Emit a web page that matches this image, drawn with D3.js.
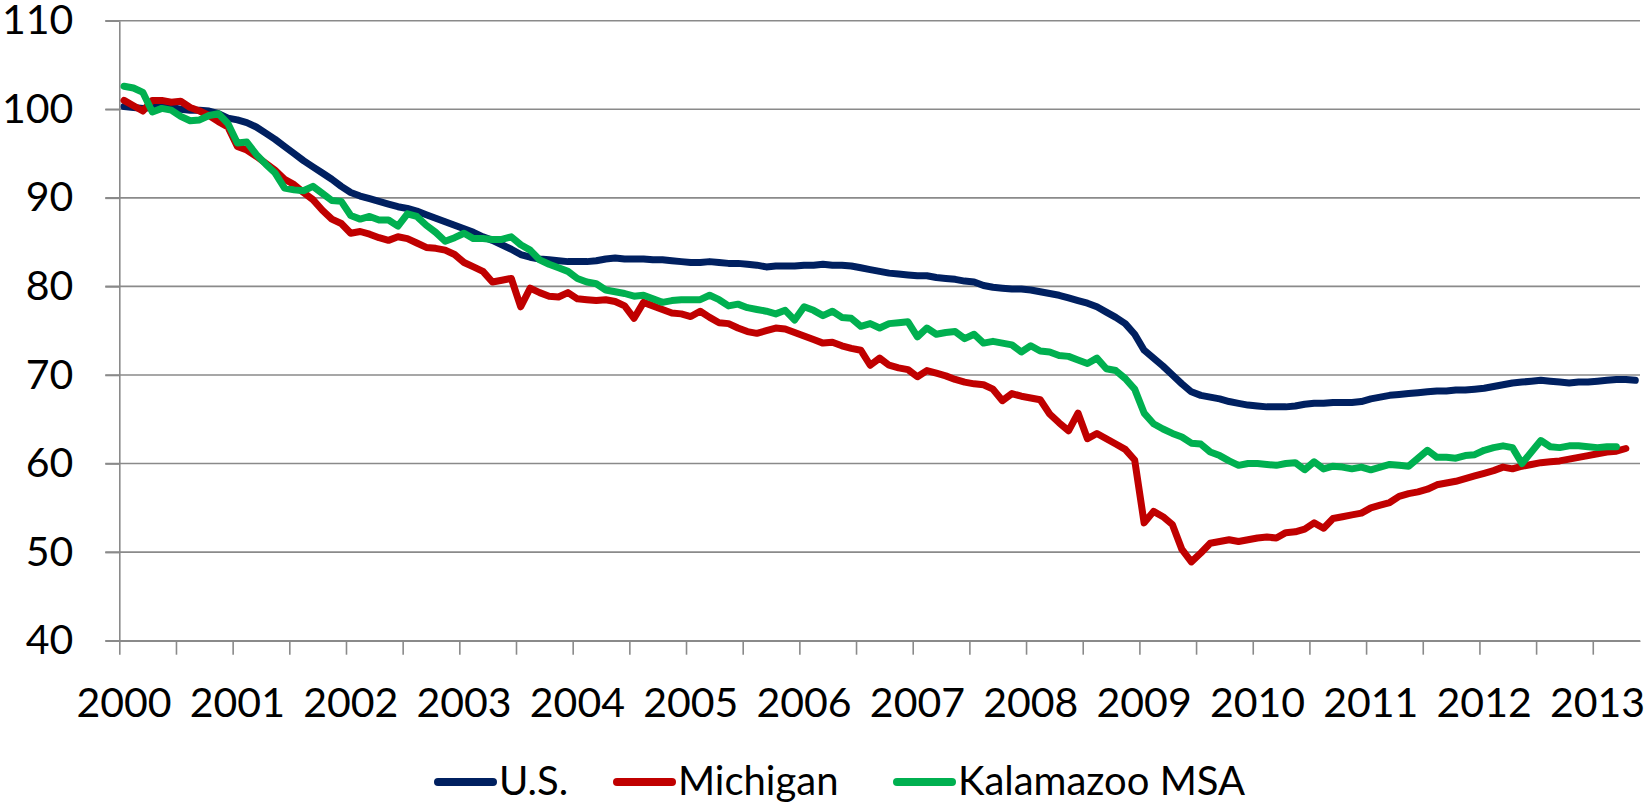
<!DOCTYPE html>
<html>
<head>
<meta charset="utf-8">
<script src="https://cdn.jsdelivr.net/npm/d3@7"></script>
<style>
  html, body { margin: 0; padding: 0; background: #fff; }
  svg { display: block; }
  text { font-family: Lato, "Open Sans", sans-serif; fill: #000; }
</style>
</head>
<body>
<svg id="chart" width="1648" height="805"></svg>
<script>
// ---- data (monthly index, Jan 2000 = first value) ----
const yearLabels = ["2000","2001","2002","2003","2004","2005","2006","2007","2008","2009","2010","2011","2012","2013"];
const yTicks = [40, 50, 60, 70, 80, 90, 100, 110];
const seriesNames = ["U.S.", "Michigan", "Kalamazoo MSA"];

const usValues = [
  100.3,100.2,100.1,100.2,100.3,100.2,100.0,99.9,99.9,99.8,99.5,99.0,
  98.8,98.5,98.0,97.3,96.6,95.8,95.0,94.2,93.5,92.8,92.1,91.3,
  90.6,90.2,89.9,89.6,89.3,89.0,88.8,88.5,88.1,87.7,87.3,86.9,
  86.5,86.1,85.6,85.2,84.7,84.2,83.6,83.3,83.1,83.0,82.9,82.8,
  82.8,82.8,82.9,83.1,83.2,83.1,83.1,83.1,83.0,83.0,82.9,82.8,
  82.7,82.7,82.8,82.7,82.6,82.6,82.5,82.4,82.2,82.3,82.3,82.3,
  82.4,82.4,82.5,82.4,82.4,82.3,82.1,81.9,81.7,81.5,81.4,81.3,
  81.2,81.2,81.0,80.9,80.8,80.6,80.5,80.1,79.9,79.8,79.7,79.7,
  79.6,79.4,79.2,79.0,78.7,78.4,78.1,77.7,77.1,76.5,75.8,74.6,
  72.8,71.9,71.0,70.0,69.0,68.1,67.7,67.5,67.3,67.0,66.8,66.6,
  66.5,66.4,66.4,66.4,66.5,66.7,66.8,66.8,66.9,66.9,66.9,67.0,
  67.3,67.5,67.7,67.8,67.9,68.0,68.1,68.2,68.2,68.3,68.3,68.4,
  68.5,68.7,68.9,69.1,69.2,69.3,69.4,69.3,69.2,69.1,69.2,69.2,
  69.3,69.4,69.5,69.5,69.4
];

const michiganValues = [
  101.0,100.4,99.8,101.0,101.0,100.8,100.9,100.2,99.8,99.3,98.6,98.0,
  95.8,95.4,94.7,93.9,93.1,92.1,91.5,90.6,89.8,88.6,87.6,87.1,
  86.0,86.2,85.9,85.5,85.2,85.6,85.4,84.9,84.4,84.3,84.1,83.6,
  82.7,82.2,81.7,80.5,80.7,80.9,77.7,79.8,79.3,78.9,78.8,79.3,
  78.6,78.5,78.4,78.5,78.3,77.8,76.4,78.2,77.8,77.4,77.0,76.9,
  76.6,77.2,76.5,75.9,75.8,75.3,74.9,74.7,75.0,75.3,75.2,74.8,
  74.4,74.0,73.6,73.7,73.3,73.0,72.8,71.1,71.9,71.1,70.8,70.6,
  69.8,70.5,70.2,69.9,69.5,69.2,69.0,68.9,68.4,67.1,67.9,67.6,
  67.4,67.2,65.6,64.6,63.7,65.7,62.8,63.4,62.8,62.2,61.6,60.4,
  53.3,54.6,54.0,53.1,50.3,48.9,49.9,51.0,51.2,51.4,51.2,51.4,
  51.6,51.7,51.6,52.2,52.3,52.6,53.3,52.7,53.8,54.0,54.2,54.4,
  55.0,55.3,55.6,56.3,56.6,56.8,57.1,57.6,57.8,58.0,58.3,58.6,
  58.9,59.2,59.6,59.4,59.7,59.9,60.1,60.2,60.3,60.5,60.7,60.9,
  61.1,61.3,61.4,61.7
];

const kalamazooValues = [
  102.6,102.4,101.9,99.7,100.1,99.9,99.2,98.7,98.8,99.3,99.5,98.4,
  96.2,96.3,94.9,93.8,92.8,91.1,90.9,90.8,91.3,90.5,89.7,89.6,
  88.0,87.6,87.9,87.5,87.5,86.8,88.2,87.9,86.9,86.1,85.1,85.5,
  86.0,85.4,85.4,85.3,85.3,85.6,84.7,84.1,83.0,82.5,82.1,81.7,
  80.9,80.5,80.3,79.6,79.4,79.2,78.9,79.0,78.6,78.2,78.4,78.5,
  78.5,78.5,79.0,78.5,77.8,78.0,77.6,77.4,77.2,76.9,77.3,76.2,
  77.7,77.3,76.7,77.2,76.5,76.4,75.5,75.8,75.3,75.8,75.9,76.0,
  74.3,75.3,74.6,74.8,74.9,74.1,74.6,73.6,73.8,73.6,73.4,72.6,
  73.3,72.7,72.6,72.2,72.1,71.7,71.3,71.9,70.7,70.5,69.6,68.4,
  65.7,64.5,63.9,63.4,63.0,62.3,62.2,61.3,60.9,60.3,59.8,60.0,
  60.0,59.9,59.8,60.0,60.1,59.3,60.2,59.4,59.7,59.6,59.4,59.6,
  59.3,59.6,59.9,59.8,59.7,60.6,61.5,60.7,60.7,60.6,60.9,61.0,
  61.5,61.8,62.0,61.8,60.0,61.3,62.6,61.9,61.8,62.0,62.0,61.9,
  61.8,61.9,61.9
];

const seriesColors = ["#002060", "#C00000", "#00B050"];
const seriesValues = [usValues, michiganValues, kalamazooValues];

(function () {
  // ---- layout ----
  const nMonths = 161;
  const plotLeft = 119.3, plotRight = 1640, plotTop = 20.7, plotBottom = 640.7;

  const svg = d3.select("#chart");
  const x = d3.scaleLinear().domain([0, nMonths]).range([plotLeft, plotRight]);
  const y = d3.scaleLinear().domain([40, 110]).range([plotBottom, plotTop]);

  const gridColor = "#8a8a8a";

  // gridlines
  svg.append("g")
    .selectAll("line")
    .data(yTicks)
    .join("line")
    .attr("x1", plotLeft - 14).attr("x2", plotRight)
    .attr("y1", d => y(d)).attr("y2", d => y(d))
    .attr("stroke", gridColor).attr("stroke-width", 1.6);

  // y axis
  const yAxis = svg.append("g")
    .attr("transform", `translate(${plotLeft},0)`)
    .call(d3.axisLeft(y).tickValues(yTicks).tickSize(14).tickSizeOuter(0).tickPadding(32).tickFormat(d3.format("d")));
  yAxis.select(".domain").attr("stroke", gridColor).attr("stroke-width", 1.6);
  yAxis.selectAll(".tick line").attr("stroke", gridColor).attr("stroke-width", 1.6);
  yAxis.selectAll(".tick text").attr("font-size", 41).attr("font-family", "Lato, 'Open Sans', sans-serif").attr("fill", "#000");

  // x axis (ticks every 6 months)
  const xTickVals = d3.range(0, nMonths, 6);
  const xAxis = svg.append("g")
    .attr("transform", `translate(0,${plotBottom})`)
    .call(d3.axisBottom(x).tickValues(xTickVals).tickSize(14).tickSizeOuter(0).tickFormat(""));
  xAxis.select(".domain").attr("stroke", gridColor).attr("stroke-width", 1.6);
  xAxis.selectAll(".tick line").attr("stroke", gridColor).attr("stroke-width", 1.6);

  // year labels
  svg.append("g")
    .selectAll("text")
    .data(yearLabels)
    .join("text")
    .attr("x", (d, i) => x(i * 12 + 0.5))
    .attr("y", 717)
    .attr("text-anchor", "middle")
    .attr("font-size", 41)
    .text(d => d);

  // series lines
  const line = d3.line()
    .x((d, i) => x(i + 0.5))
    .y(d => y(d));

  svg.append("g")
    .selectAll("path")
    .data(seriesValues)
    .join("path")
    .attr("d", d => line(d))
    .attr("fill", "none")
    .attr("stroke", (d, i) => seriesColors[i])
    .attr("stroke-width", 7)
    .attr("stroke-linejoin", "round")
    .attr("stroke-linecap", "round");

  // legend
  const legendX = [438, 617, 897];
  const lg = svg.append("g");
  seriesNames.forEach((name, i) => {
    lg.append("line")
      .attr("x1", legendX[i]).attr("x2", legendX[i] + 55)
      .attr("y1", 782).attr("y2", 782)
      .attr("stroke", seriesColors[i]).attr("stroke-width", 8)
      .attr("stroke-linecap", "round");
    lg.append("text")
      .attr("x", legendX[i] + 61)
      .attr("y", 795)
      .attr("font-size", 40)
      .text(name);
  });
})();
</script>
</body>
</html>
